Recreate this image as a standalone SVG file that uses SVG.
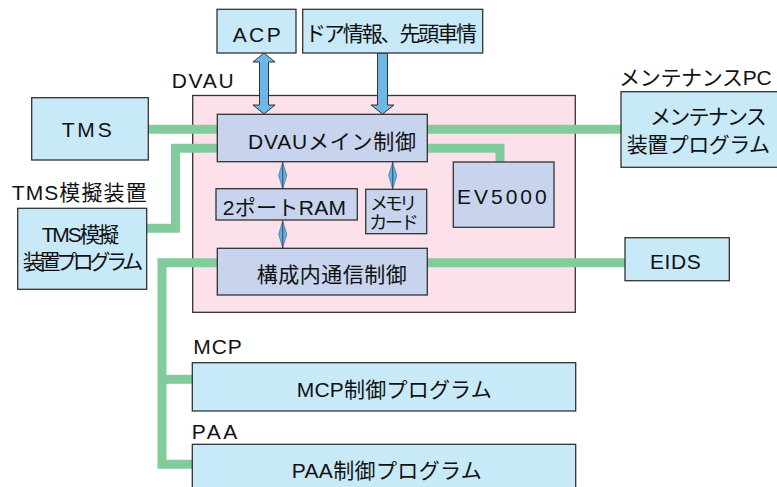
<svg xmlns="http://www.w3.org/2000/svg" width="777" height="487" viewBox="0 0 777 487">
<style>
text{font-family:"Liberation Sans","Noto Sans CJK JP",sans-serif;font-size:21px;fill:#111;lengthAdjust:spacing}
.ext{fill:#C8E9F8;stroke:#333;stroke-width:1.3}
.int{fill:#C8D4EE;stroke:#333;stroke-width:1.3}
.grn{fill:none;stroke:#82CB9D;stroke-width:9;stroke-linejoin:miter}
.arr{fill:#6EB8E8;stroke:#333;stroke-width:1}
.dia{fill:#5FB0E2;stroke:#3a6a8a;stroke-width:0.6}
</style>
<rect width="777" height="487" fill="#fff"/>
<g id="dvau">
<rect x="192.7" y="95.5" width="382.6" height="216.8" fill="#FCE0EA" stroke="#333" stroke-width="1.3"/>
<text x="171.7" y="87.7" textLength="62" lengthAdjust="spacing">DVAU</text>
</g>
<g id="connectors">
<path class="grn" d="M148.3 129.3H218"/>
<path class="grn" d="M146.7 228.3H175.5V148.3H218"/>
<path class="grn" d="M427 129.3H621"/>
<path class="grn" d="M427 148.3H500V162"/>
<path class="grn" d="M427 262.7H625"/>
<path class="grn" d="M218 262.7H162V464.3H192.3"/>
<path class="grn" d="M162 379.3H192.3"/>
<polygon class="arr" points="264,53 275,62 268.5,62 268.5,105 275,105 264,114 253,105 259.5,105 259.5,62 253,62"/>
<polygon class="arr" points="377.5,53 387.5,53 387.5,105 394,105 382.5,114 371,105 377.5,105"/>
<polygon class="dia" points="282.7,162 286.8,175.5 282.7,189 278.6,175.5"/>
<polygon class="dia" points="392.7,162 396.8,175.5 392.7,189 388.6,175.5"/>
<polygon class="dia" points="282.7,220.5 286.8,234.3 282.7,248 278.6,234.3"/>
<path d="M282.7 162V189M392.7 162V189M282.7 220.5V248" stroke="#333" stroke-width="0.8"/>
</g>
<g id="acp">
<rect class="ext" x="217" y="9.3" width="79" height="43.7"/>
<text x="232.7" y="41.5" textLength="48" lengthAdjust="spacing">ACP</text>
</g>
<g id="door">
<rect class="ext" x="302.7" y="9.3" width="180" height="43.7"/>
<text x="305" y="41" textLength="172" lengthAdjust="spacing">ドア情報、先頭車情</text>
</g>
<g id="tms">
<rect class="ext" x="31.7" y="97.7" width="116.6" height="62.3"/>
<text x="61.7" y="137" textLength="50" lengthAdjust="spacing">TMS</text>
</g>
<g id="tmssim">
<text x="11.7" y="200" textLength="135" lengthAdjust="spacing">TMS模擬装置</text>
<rect class="ext" x="17.7" y="208.3" width="129" height="81"/>
<text x="41.7" y="242" textLength="77.6" lengthAdjust="spacing">TMS模擬</text>
<text x="22.7" y="268.5" textLength="120.6" lengthAdjust="spacing">装置プログラム</text>
</g>
<g id="main">
<rect class="int" x="217.3" y="114.3" width="210" height="47.4"/>
<text x="248" y="149" textLength="168" lengthAdjust="spacing">DVAUメイン制御</text>
</g>
<g id="ram">
<rect class="int" x="216" y="188.7" width="141.3" height="31.3"/>
<text x="222.7" y="214.5" textLength="123.3" lengthAdjust="spacing">2ポートRAM</text>
</g>
<g id="memcard">
<rect class="int" x="365.7" y="189.3" width="61" height="44.4"/>
<text x="370" y="209.5" textLength="47.3" lengthAdjust="spacing" style="font-size:18px">メモリ</text>
<text x="369.3" y="228.5" textLength="49.4" lengthAdjust="spacing" style="font-size:18px">カード</text>
</g>
<g id="ev5000">
<rect class="int" x="453.3" y="162" width="100.7" height="65.3"/>
<text x="457" y="204" textLength="89.7" lengthAdjust="spacing">EV5000</text>
</g>
<g id="comm">
<rect class="int" x="217.3" y="248.3" width="210" height="46.7"/>
<text x="256.7" y="281.5" textLength="150" lengthAdjust="spacing">構成内通信制御</text>
</g>
<g id="maint">
<text x="619" y="85" textLength="152.7" lengthAdjust="spacing">メンテナンスPC</text>
<rect class="ext" x="621" y="91.7" width="160" height="75.6"/>
<text x="650" y="123.5" textLength="116.7" lengthAdjust="spacing">メンテナンス</text>
<text x="626.7" y="151.5" textLength="143.3" lengthAdjust="spacing">装置プログラム</text>
</g>
<g id="eids">
<rect class="ext" x="625" y="237.7" width="104.3" height="43"/>
<text x="650" y="269" textLength="50.7" lengthAdjust="spacing">EIDS</text>
</g>
<g id="mcp">
<text x="193.3" y="354" textLength="48.4" lengthAdjust="spacing">MCP</text>
<rect class="ext" x="192.3" y="362.7" width="383.4" height="48.3"/>
<text x="296.7" y="397" textLength="195" lengthAdjust="spacing">MCP制御プログラム</text>
</g>
<g id="paa">
<text x="191.7" y="439" textLength="45.6" lengthAdjust="spacing">PAA</text>
<rect class="ext" x="192.3" y="444.3" width="383.4" height="60"/>
<text x="291.7" y="477.5" textLength="190" lengthAdjust="spacing">PAA制御プログラム</text>
</g>
</svg>
